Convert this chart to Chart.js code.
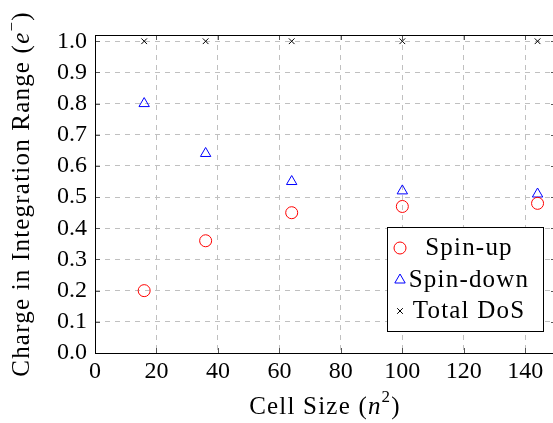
<!DOCTYPE html>
<html>
<head>
<meta charset="utf-8">
<script src="https://cdn.jsdelivr.net/npm/chart.js@4"></script>
<style>
  html, body { margin: 0; padding: 0; background: #fff; overflow: hidden; }
  #wrap { width: 570px; height: 423px; }
</style>
</head>
<body>
<div id="wrap"><canvas id="chart" width="570" height="423"></canvas></div>
<script>
const cellSizes = [16, 36, 64, 100, 144];
const spinUp    = [0.20, 0.36, 0.45, 0.47, 0.48];
const spinDown  = [0.80, 0.64, 0.55, 0.52, 0.51];
const totalDos  = [1.0, 1.0, 1.0, 1.0, 1.0];
const seriesNames = ['Spin-up', 'Spin-down', 'Total DoS'];
const xTicks = [0, 20, 40, 60, 80, 100, 120, 140];
const yTicks = [0, 0.1, 0.2, 0.3, 0.4, 0.5, 0.6, 0.7, 0.8, 0.9, 1.0];

const FONT = '"Liberation Serif", "DejaVu Serif", serif';
const FS = 24;   // tick labels
const TS = 25;   // titles / legend

function pts(ys) {
    return cellSizes.map((x, i) => ({ x: x, y: ys[i] }));
}

// draws text runs, some in italic, some raised
function drawRuns(ctx, runs, cx, cy) {
    let total = 0;
    runs.forEach(r => {
        ctx.font = (r.it ? 'italic ' : '') + (r.sup ? 17 : TS) + 'px ' + FONT;
        r.w = ctx.measureText(r.t).width;
        total += r.w;
    });
    let x = cx - total / 2;
    runs.forEach(r => {
        ctx.font = (r.it ? 'italic ' : '') + (r.sup ? 17 : TS) + 'px ' + FONT;
        ctx.fillText(r.t, x, cy + (r.sup ? -9 : 0));
        x += r.w;
    });
}

const extras = {
    id: 'extras',
    afterDatasetsDraw(chart) {
        const ctx = chart.ctx;
        const a = chart.chartArea;
        const xs = chart.scales.x, ys = chart.scales.y;
        ctx.save();

        // inward tick marks
        ctx.strokeStyle = '#555';
        ctx.lineWidth = 1;
        ctx.beginPath();
        xs.ticks.forEach(t => {
            const px = Math.round(xs.getPixelForValue(t.value)) + 0.5;
            ctx.moveTo(px, a.bottom); ctx.lineTo(px, a.bottom - 5);
            ctx.moveTo(px, a.top); ctx.lineTo(px, a.top + 5);
        });
        ys.ticks.forEach(t => {
            const py = Math.round(ys.getPixelForValue(t.value)) + 0.5;
            ctx.moveTo(a.left, py); ctx.lineTo(a.left + 5, py);
            ctx.moveTo(a.right, py); ctx.lineTo(a.right - 5, py);
        });
        ctx.stroke();

        // frame
        ctx.strokeStyle = '#000';
        ctx.strokeRect(a.left + 0.5, a.top + 0.5, a.right - a.left, a.bottom - a.top);

        // legend box
        const bx = 387.5, by = 227.5, bw = 156, bh = 104;
        ctx.fillStyle = '#fff';
        ctx.fillRect(bx, by, bw, bh);
        ctx.strokeStyle = '#000';
        ctx.strokeRect(bx, by, bw, bh);
        const rows = [248, 280, 311];
        ctx.letterSpacing = '1.2px';
        chart.data.datasets.forEach((ds, i) => {
            const cy = rows[i];
            ctx.strokeStyle = ds.borderColor;
            ctx.fillStyle = 'rgba(0,0,0,0)';
            ctx.lineWidth = 1;
            Chart.helpers.drawPoint(ctx, { pointStyle: ds.pointStyle, radius: ds.pointRadius, borderWidth: 1 }, 400, cy);
            ctx.fillStyle = '#000';
            ctx.font = TS + 'px ' + FONT;
            ctx.textAlign = 'center';
            ctx.textBaseline = 'middle';
            ctx.fillText(ds.label, 469, cy);
        });

        // axis titles
        ctx.fillStyle = '#000';
        ctx.textAlign = 'left';
        ctx.textBaseline = 'middle';
        drawRuns(ctx, [{ t: 'Cell Size (' }, { t: 'n', it: true }, { t: '2', sup: true }, { t: ')' }], 325, 407);
        ctx.translate(22, 194);
        ctx.rotate(-Math.PI / 2);
        drawRuns(ctx, [{ t: 'Charge in Integration Range (' }, { t: 'e', it: true }, { t: '\u2212', sup: true }, { t: ')' }], 0, 0);
        ctx.restore();
    }
};

new Chart(document.getElementById('chart'), {
    type: 'scatter',
    data: {
        datasets: [{
            label: seriesNames[0],
            data: pts(spinUp),
            pointStyle: 'circle',
            pointRadius: 6,
            borderColor: '#ff0000',
            backgroundColor: 'rgba(0,0,0,0)',
            borderWidth: 1
        }, {
            label: seriesNames[1],
            data: pts(spinDown),
            pointStyle: 'triangle',
            pointRadius: 6,
            borderColor: '#0000ff',
            backgroundColor: 'rgba(0,0,0,0)',
            borderWidth: 1
        }, {
            label: seriesNames[2],
            data: pts(totalDos),
            pointStyle: 'crossRot',
            pointRadius: 4,
            borderColor: '#000',
            backgroundColor: 'rgba(0,0,0,0)',
            borderWidth: 1
        }]
    },
    options: {
        responsive: false,
        animation: false,
        layout: { padding: { top: 35, right: 14, left: 0, bottom: 0 } },
        plugins: { legend: { display: false }, tooltip: { enabled: false } },
        scales: {
            x: {
                type: 'linear',
                min: 0,
                max: 150,
                afterBuildTicks: s => { s.ticks = xTicks.map(v => ({ value: v })); },
                afterFit: s => { s.height = 70; },
                ticks: { color: '#000', font: { family: FONT, size: FS }, padding: 4, maxRotation: 0 },
                grid: { color: '#c0c0c0', drawTicks: false },
                border: { display: false, dash: [5, 5] }
            },
            y: {
                min: 0,
                max: 1.02,
                afterBuildTicks: s => { s.ticks = yTicks.map(v => ({ value: v })); },
                afterFit: s => { s.width = 95; },
                ticks: {
                    color: '#000',
                    font: { family: FONT, size: FS },
                    padding: 8,
                    callback: v => v.toFixed(1)
                },
                grid: { color: '#c0c0c0', drawTicks: false },
                border: { display: false, dash: [5, 5] }
            }
        }
    },
    plugins: [extras]
});
</script>
</body>
</html>
